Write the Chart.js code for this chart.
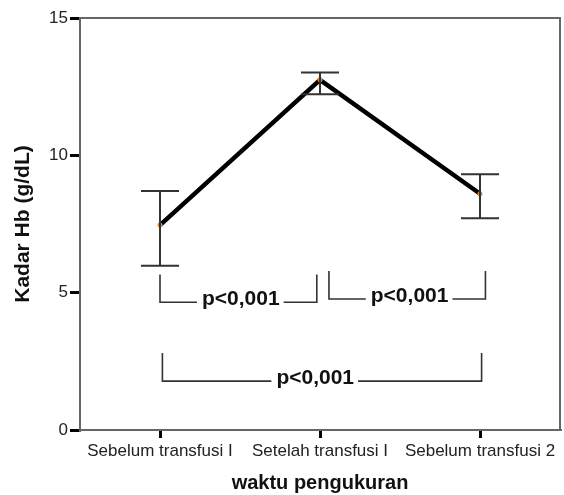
<!DOCTYPE html>
<html>
<head>
<meta charset="utf-8">
<script src="https://cdn.jsdelivr.net/npm/chart.js@4.4.0/dist/chart.umd.min.js"></script>
<style>
  html, body { margin: 0; padding: 0; background: #fff; }
  #wrap { width: 564px; height: 495px; }
</style>
</head>
<body>
<div id="wrap"><canvas id="hbChart" width="564" height="495"></canvas></div>
<script>
// data
const categories = ['Sebelum transfusi I', 'Setelah transfusi I', 'Sebelum transfusi 2'];
const meanHb = [7.46, 12.75, 8.6];
const errLow = [5.98, 12.22, 7.71];
const errHigh = [8.70, 13.02, 9.31];
const yTicks = [0, 5, 10, 15];

// p-value brackets (x in category index, y in g/dL)
const bracketFrom = [0, 1.056, 0.015];
const bracketTo = [0.98, 2.034, 2.01];
const bracketTop = [5.66, 5.79, 2.80];
const bracketBottom = [4.65, 4.77, 1.78];
const bracketLabelAt = [0.505, 1.56, 0.97];
const bracketLabels = ['p<0,001', 'p<0,001', 'p<0,001'];

const FONT = "'Liberation Sans', Arial, sans-serif";

const framePlugin = {
  id: 'frame',
  afterDraw(chart) {
    const { ctx, chartArea: a } = chart;
    ctx.save();
    ctx.strokeStyle = '#666';
    ctx.lineWidth = 2;
    ctx.beginPath();
    ctx.moveTo(a.left, a.top);
    ctx.lineTo(a.right, a.top);
    ctx.lineTo(a.right, a.bottom);
    ctx.stroke();
    ctx.restore();
  }
};

const errorBarPlugin = {
  id: 'errorBars',
  afterDatasetsDraw(chart) {
    const { ctx, scales } = chart;
    const x = scales.x, y = scales.y;
    ctx.save();
    ctx.strokeStyle = '#333';
    ctx.lineWidth = 2;
    meanHb.forEach((m, i) => {
      const px = x.getPixelForValue(i);
      const lo = y.getPixelForValue(errLow[i]);
      const hi = y.getPixelForValue(errHigh[i]);
      ctx.beginPath();
      ctx.moveTo(px, lo); ctx.lineTo(px, hi);
      ctx.moveTo(px - 19, lo); ctx.lineTo(px + 19, lo);
      ctx.moveTo(px - 19, hi); ctx.lineTo(px + 19, hi);
      ctx.stroke();
    });
    ctx.restore();
  }
};

const bracketPlugin = {
  id: 'brackets',
  afterDatasetsDraw(chart) {
    const { ctx, scales } = chart;
    const x = scales.x, y = scales.y;
    ctx.save();
    ctx.font = 'bold 21px ' + FONT;
    ctx.textAlign = 'center';
    ctx.textBaseline = 'alphabetic';
    bracketLabels.forEach((label, i) => {
      const x0 = x.getPixelForValue(bracketFrom[i]);
      const x1 = x.getPixelForValue(bracketTo[i]);
      const yt = y.getPixelForValue(bracketTop[i]);
      const yb = y.getPixelForValue(bracketBottom[i]);
      const xm = x.getPixelForValue(bracketLabelAt[i]);
      const w = ctx.measureText(label).width;
      ctx.strokeStyle = '#333';
      ctx.lineWidth = 1.6;
      ctx.beginPath();
      ctx.moveTo(x0, yt); ctx.lineTo(x0, yb);
      ctx.lineTo(xm - w / 2 - 5, yb);
      ctx.moveTo(xm + w / 2 + 4, yb); ctx.lineTo(x1, yb);
      ctx.lineTo(x1, yt);
      ctx.stroke();
      ctx.fillStyle = '#111';
      ctx.fillText(label, xm, yb + 3);
    });
    ctx.restore();
  }
};

new Chart(document.getElementById('hbChart'), {
  type: 'line',
  data: {
    labels: categories,
    datasets: [{
      data: meanHb,
      borderColor: '#000',
      borderWidth: 4.5,
      tension: 0,
      pointRadius: 2.5,
      pointBackgroundColor: '#e0883a',
      pointBorderWidth: 0
    }]
  },
  options: {
    responsive: false,
    animation: false,
    layout: { padding: { top: 18, right: 2, left: 0, bottom: 0 } },
    plugins: {
      legend: { display: false },
      tooltip: { enabled: false }
    },
    scales: {
      x: {
        type: 'category',
        offset: true,
        grid: {
          offset: false,
          drawOnChartArea: false,
          drawTicks: true,
          tickLength: 8,
          color: '#000',
          lineWidth: 3
        },
        border: { color: '#666', width: 2 },
        ticks: {
          color: '#222',
          font: { family: FONT, size: 17 },
          padding: 3,
          maxRotation: 0,
          autoSkip: false
        },
        title: {
          display: true,
          text: 'waktu pengukuran',
          color: '#111',
          font: { family: FONT, size: 20, weight: 'bold' },
          padding: { top: 7, bottom: 0 }
        },
        afterFit(scale) { scale.height = 65; }
      },
      y: {
        min: 0,
        max: 15,
        afterBuildTicks(scale) { scale.ticks = yTicks.map(v => ({ value: v })); },
        grid: {
          drawOnChartArea: false,
          drawTicks: true,
          tickLength: 10,
          color: '#000',
          lineWidth: 3
        },
        border: { color: '#666', width: 2 },
        ticks: {
          color: '#222',
          font: { family: FONT, size: 17 },
          padding: 2
        },
        title: {
          display: true,
          text: 'Kadar Hb (g/dL)',
          color: '#111',
          font: { family: FONT, size: 21, weight: 'bold' },
          padding: { top: 11, bottom: 0 }
        },
        afterFit(scale) { scale.width = 80; }
      }
    }
  },
  plugins: [framePlugin, errorBarPlugin, bracketPlugin]
});
</script>
</body>
</html>
